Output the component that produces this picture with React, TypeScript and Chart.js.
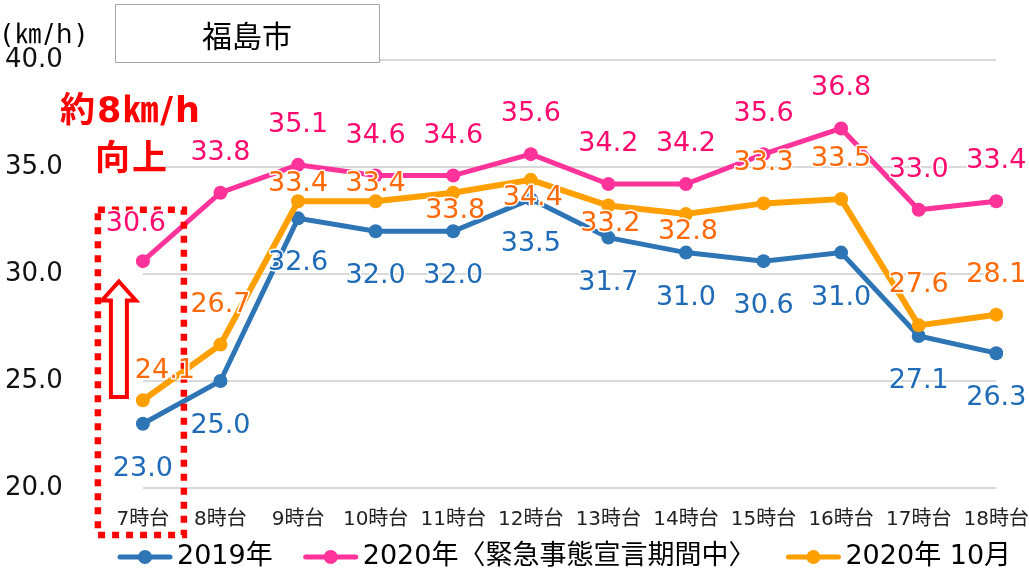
import { useEffect, useRef } from 'react';
import { Chart, registerables } from 'chart.js';

Chart.register(...registerables);

const categories = ['7時台', '8時台', '9時台', '10時台', '11時台', '12時台', '13時台', '14時台', '15時台', '16時台', '17時台', '18時台'];
const series2019 = [23.0, 25.0, 32.6, 32.0, 32.0, 33.5, 31.7, 31.0, 30.6, 31.0, 27.1, 26.3];
const seriesEmergency = [30.6, 33.8, 35.1, 34.6, 34.6, 35.6, 34.2, 34.2, 35.6, 36.8, 33.0, 33.4];
const seriesOctober = [24.1, 26.7, 33.4, 33.4, 33.8, 34.4, 33.2, 32.8, 33.3, 33.5, 27.6, 28.1];
const yTicks = [20, 25, 30, 35, 40];
const seriesNames = ['2019年', '2020年〈緊急事態宣言期間中〉', '2020年 10月'];
const cityTitle = '福島市';
const unitLabel = '(㎞/h)';
const noteLines = ['約8㎞/h', '向上'];

// label placement per point (style config, not data)
const placement2019 = categories.map(() => 'down');
const placementEmergency = categories.map((_, i) => (i === 0 ? 'upLeft' : 'up'));
const placementOctober = ['upRight', 'up', 'upNear', 'upNear', 'downNear', 'downNear', 'downNear', 'downNear', 'up', 'up', 'up', 'up'];

const FONT = "'DejaVu Sans', 'Noto Sans CJK JP', sans-serif";
const CJK = "'Noto Sans CJK JP', sans-serif";
const BLUE = '#2E75B6';
const PINK = '#FF3399';
const ORANGE = '#FFA000';
const BLUE_TXT = '#1F6BB8';
const PINK_TXT = '#FF0A6E';
const ORANGE_TXT = '#FF6A0A';

const OFFSETS: Record<string, [number, number]> = {
  up: [0, -40],
  upLeft: [-7, -37],
  upRight: [22, -29],
  upNear: [0, -17],
  downNear: [2, 18],
  down: [0, 45],
};

const overlayPlugin = {
  id: 'overlay',
  afterDatasetsDraw(chart: any) {
    const { ctx, scales } = chart;
    const xs = scales.x;
    const ys = scales.y;
    const x0 = xs.getPixelForValue(0);

    ctx.save();
    // dotted highlight box around first category
    ctx.strokeStyle = '#FF0000';
    ctx.lineWidth = 6.5;
    ctx.setLineDash([7, 7]);
    ctx.lineCap = 'butt';
    const top = ys.getPixelForValue(33.0);
    const bottom = ys.bottom + 47;
    ctx.strokeRect(x0 - 45, top, 86, bottom - top);
    ctx.setLineDash([]);

    // hollow arrow
    const ac = x0 - 24;
    const tip = ys.getPixelForValue(29.65);
    const base = ys.getPixelForValue(24.25);
    const headY = tip + 19;
    ctx.beginPath();
    ctx.moveTo(ac, tip);
    ctx.lineTo(ac + 17, headY);
    ctx.lineTo(ac + 8, headY);
    ctx.lineTo(ac + 8, base);
    ctx.lineTo(ac - 8, base);
    ctx.lineTo(ac - 8, headY);
    ctx.lineTo(ac - 17, headY);
    ctx.closePath();
    ctx.fillStyle = '#FFFFFF';
    ctx.fill();
    ctx.lineWidth = 4;
    ctx.lineJoin = 'miter';
    ctx.strokeStyle = '#FF0000';
    ctx.stroke();

    // data labels
    const specs = [
      { data: series2019, place: placement2019, color: BLUE_TXT, idx: 0 },
      { data: seriesOctober, place: placementOctober, color: ORANGE_TXT, idx: 2 },
      { data: seriesEmergency, place: placementEmergency, color: PINK_TXT, idx: 1 },
    ];
    ctx.font = `27px ${FONT}`;
    ctx.textAlign = 'center';
    ctx.textBaseline = 'middle';
    ctx.lineJoin = 'round';
    specs.forEach((s) => {
      const meta = chart.getDatasetMeta(s.idx);
      meta.data.forEach((pt: any, i: number) => {
        const [dx, dy] = OFFSETS[s.place[i]];
        const txt = s.data[i].toFixed(1);
        ctx.strokeStyle = '#FFFFFF';
        ctx.lineWidth = 3;
        ctx.strokeText(txt, pt.x + dx, pt.y + dy);
        ctx.fillStyle = s.color;
        ctx.fillText(txt, pt.x + dx, pt.y + dy);
      });
    });

    // title box
    ctx.fillStyle = '#FFFFFF';
    ctx.fillRect(115, 4, 264, 58);
    ctx.strokeStyle = '#A6A6A6';
    ctx.lineWidth = 1;
    ctx.strokeRect(115.5, 4.5, 264, 58);
    ctx.fillStyle = '#000000';
    ctx.font = `30px ${CJK}`;
    ctx.textAlign = 'center';
    ctx.fillText(cityTitle, 247, 36);

    // unit
    ctx.font = `26px ${FONT}`;
    ctx.textAlign = 'left';
    ctx.fillStyle = '#000000';
    (ctx as any).letterSpacing = '3px';
    ctx.fillText(unitLabel, 2, 36);
    (ctx as any).letterSpacing = '0px';

    // red note
    ctx.font = `bold 35px ${FONT}`;
    ctx.textAlign = 'center';
    ctx.fillStyle = '#FF0000';
    (ctx as any).letterSpacing = '2px';
    ctx.fillText(noteLines[0], 131, 113);
    ctx.fillText(noteLines[1], 132, 161);
    (ctx as any).letterSpacing = '0px';

    // legend
    const colors = [BLUE, PINK, ORANGE];
    let lx = 117;
    const cy = 557;
    ctx.font = `27px ${FONT}`;
    ctx.textAlign = 'left';
    seriesNames.forEach((name, i) => {
      ctx.strokeStyle = colors[i];
      ctx.lineWidth = 5;
      ctx.lineCap = 'round';
      ctx.beginPath();
      ctx.moveTo(lx + 3, cy);
      ctx.lineTo(lx + 53, cy);
      ctx.stroke();
      ctx.beginPath();
      ctx.arc(lx + 28, cy, 7, 0, Math.PI * 2);
      ctx.fillStyle = colors[i];
      ctx.fill();
      ctx.fillStyle = '#000000';
      ctx.fillText(name, lx + 60, cy);
      lx += 60 + ctx.measureText(name).width + 30;
    });
    ctx.restore();
  },
};

export default function App() {
  const ref = useRef<HTMLCanvasElement>(null);
  useEffect(() => {
    const canvas = ref.current!;
    const mk = (label: string, data: number[], color: string, order: number, width: number) => ({
      label,
      data,
      borderColor: color,
      backgroundColor: color,
      pointBackgroundColor: color,
      pointBorderColor: color,
      borderWidth: width,
      pointRadius: 7,
      pointBorderWidth: 0,
      tension: 0,
      order,
    });
    const chart = new Chart(canvas, {
      type: 'line',
      data: {
        labels: categories,
        datasets: [
          mk(seriesNames[0], series2019, BLUE, 3, 5),
          mk(seriesNames[1], seriesEmergency, PINK, 2, 5),
          mk(seriesNames[2], seriesOctober, ORANGE, 1, 6),
        ],
      },
      options: {
        responsive: false,
        animation: false,
        layout: { padding: { top: 60, left: 5, right: 0, bottom: 42 } },
        plugins: {
          legend: { display: false },
          tooltip: { enabled: false },
        },
        scales: {
          x: {
            grid: { display: false, drawTicks: true, tickLength: 20 },
            border: { display: false },
            ticks: {
              padding: 0,
              color: '#222222',
              font: { family: FONT, size: 20 },
              maxRotation: 0,
              autoSkip: false,
            },
          },
          y: {
            min: 20,
            max: 40,
            afterBuildTicks: (s: any) => {
              s.ticks = yTicks.map((v) => ({ value: v }));
            },
            grid: { color: '#D9D9D9', lineWidth: 2, drawTicks: false },
            border: { display: false },
            ticks: {
              padding: 40,
              crossAlign: 'far',
              color: '#111111',
              font: { family: FONT, size: 26 },
              callback: (v: any) => Number(v).toFixed(1),
            },
          },
        },
      } as any,
      plugins: [overlayPlugin],
    });
    return () => chart.destroy();
  }, []);
  return (
    <div style={{ position: 'absolute', left: 0, top: 0, width: 1029, height: 574, background: '#fff' }}>
      <canvas ref={ref} width={1029} height={574} style={{ display: 'block' }} />
    </div>
  );
}
